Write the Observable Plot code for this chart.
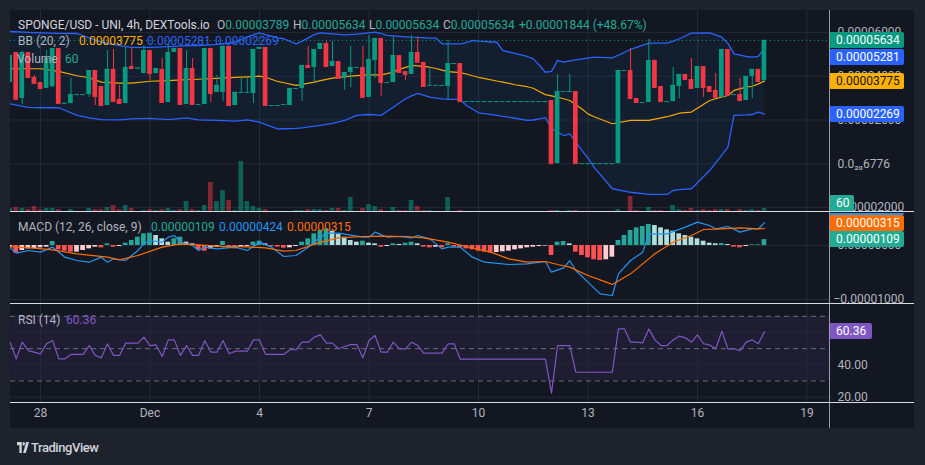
<!DOCTYPE html>
<html><head><meta charset="utf-8">
<script src="https://cdn.jsdelivr.net/npm/d3@7"></script>
<script src="https://cdn.jsdelivr.net/npm/@observablehq/plot@0.6"></script>
<style>
html,body{margin:0;padding:0;background:#1e222d;}
#root{position:relative;width:925px;height:465px;background:#1e222d;overflow:hidden;font-family:Roboto,"Noto Sans",sans-serif;}
#chartbg{position:absolute;left:10px;top:10px;width:904px;height:418px;background:#131722;}
.pane{position:absolute;left:10px;width:904px;overflow:hidden;}
.pane svg{position:absolute;left:0;top:0;}
.sep{position:absolute;}
.tag{position:absolute;left:819px;height:16px;line-height:16px;font-size:12px;padding-left:7px;box-sizing:border-box;border-radius:2px;white-space:nowrap;}
.lg{position:absolute;font-size:12px;line-height:16px;white-space:nowrap;}
</style></head>
<body><div id="root"><div id="chartbg"></div></div>
<script>
// ---------------- DATA ----------------
// prices in units of 1e-5 USD, one 4h candle each from 27 Nov 04:00
const open = [3.71,5.08,2.98,5.08,3.94,3.71,3.44,3.51,5.26,2.75,
2.75,3.16,3.16,3.16,4.26,3.53,2.66,4.31,2.94,2.75,
4.44,4.35,4.12,5.17,4.12,4.31,2.80,5.08,5.26,2.71,
4.35,2.71,2.71,5.26,3.26,3.26,5.36,2.66,3.26,3.26,
3.21,5.22,5.31,2.66,2.66,2.71,2.66,3.44,3.44,4.49,
4.40,5.22,5.49,4.44,4.67,3.90,4.17,4.40,4.40,3.03,
4.72,5.72,3.71,3.71,4.94,4.21,4.08,5.08,4.63,3.58,
3.58,3.58,3.53,4.58,4.58,2.84,2.84,2.84,2.84,2.84,
2.84,2.84,2.84,2.84,2.84,2.84,2.84,2.84,2.84,2.89,
0.0068,3.30,3.30,3.30,0.0068,0.0068,0.0068,0.0068,0.0068,0.0068,
0.0068,4.26,4.26,2.98,2.80,2.80,4.72,3.53,2.84,2.84,
3.53,4.08,3.85,3.44,4.44,3.53,3.35,3.03,5.22,3.16,
3.16,2.89,3.99,4.31,3.789];
const high = [4.94,5.08,5.13,5.08,4.03,3.71,5.17,5.26,5.26,2.76,
3.90,3.16,3.16,4.26,4.26,3.53,5.17,5.22,3.58,5.31,
5.31,4.40,5.40,5.17,4.35,4.81,5.49,5.26,5.26,5.17,
4.81,2.71,5.26,5.26,4.03,5.36,5.36,3.26,3.90,3.90,
5.22,5.31,5.31,2.66,2.66,2.71,3.44,3.44,4.49,5.36,
5.22,5.49,5.59,5.59,4.67,4.17,5.36,4.40,5.36,5.86,
5.72,5.72,3.71,5.77,4.94,4.21,5.86,5.77,4.63,4.40,
3.58,3.58,5.63,4.58,4.58,2.84,2.84,2.84,2.84,2.84,
2.84,2.84,2.84,2.84,2.84,2.84,2.84,2.84,2.84,2.89,
4.08,3.30,4.08,3.30,0.0068,0.0068,0.0068,0.0068,0.0068,0.0068,
4.26,4.26,5.26,2.98,2.80,5.68,4.72,3.53,2.84,4.40,
4.08,4.08,4.81,4.44,4.44,3.53,4.12,5.22,5.22,3.16,
3.90,3.99,4.31,4.31,5.634];
const low = [3.71,2.94,2.71,3.94,3.67,3.44,3.44,3.51,2.75,2.75,
2.75,3.16,3.16,3.03,2.66,2.66,2.66,2.84,2.75,2.75,
4.35,4.35,4.12,3.80,4.12,2.80,2.80,5.08,2.71,2.71,
2.71,2.71,2.71,2.80,3.26,2.84,2.66,2.66,3.26,3.26,
2.75,5.22,2.66,2.66,2.66,2.71,2.66,3.44,2.84,4.40,
3.67,5.22,4.44,4.44,3.90,3.35,3.48,4.40,3.03,3.03,
3.90,3.07,3.71,3.71,4.17,3.80,4.08,4.63,3.53,3.58,
3.58,3.58,2.94,4.58,2.84,2.84,2.84,2.84,2.84,2.84,
2.84,2.84,2.84,2.84,2.84,2.84,2.84,2.84,2.84,0.0068,
0.0068,3.30,3.30,0.0068,0.0068,0.0068,0.0068,0.0068,0.0068,0.0068,
0.0068,4.26,2.98,2.80,2.80,2.80,3.48,2.84,2.84,2.84,
2.98,3.85,3.44,3.44,3.03,3.30,3.03,3.03,3.12,3.16,
2.89,2.89,2.98,3.76,3.789];
const close = [4.94,2.94,5.08,3.94,3.67,3.44,4.81,5.26,2.75,2.76,
3.16,3.16,3.16,4.26,3.07,2.66,4.31,2.84,2.75,4.40,
4.35,4.36,5.17,4.12,4.35,2.80,5.08,5.26,2.71,4.35,
2.71,2.71,5.26,3.21,3.58,5.36,2.66,3.26,3.26,3.26,
5.22,5.31,2.66,2.66,2.66,2.71,3.44,3.44,4.49,4.40,
5.22,5.49,4.44,4.67,3.90,4.17,4.40,4.40,3.03,4.76,
5.72,3.71,3.71,4.94,4.17,4.08,5.08,4.63,3.53,3.58,
3.58,3.58,4.58,4.58,2.84,2.84,2.84,2.84,2.84,2.84,
2.84,2.84,2.84,2.84,2.84,2.84,2.84,2.84,2.84,0.0068,
3.30,3.30,3.30,0.0068,0.0068,0.0068,0.0068,0.0068,0.0068,0.0068,
4.26,4.26,2.98,2.80,2.80,4.72,3.48,2.84,2.84,3.58,
4.08,3.85,3.44,4.44,3.48,3.30,3.03,5.22,3.12,3.16,
2.89,3.99,4.31,3.76,5.634];
const volume = [60,80,60,40,100,40,60,60,40,0,
40,0,0,60,40,40,80,120,40,120,
60,0,20,40,20,40,60,20,40,200,
40,20,120,580,200,420,220,20,1000,200,
100,60,40,0,0,0,0,20,20,40,
40,40,20,60,60,20,280,0,60,140,
100,40,0,80,20,20,220,100,20,20,
0,0,280,0,20,0,0,0,0,0,
0,0,0,0,0,0,0,0,0,20,
20,0,20,20,0,0,0,0,0,0,
40,0,300,20,0,80,20,20,0,120,
40,20,60,20,40,20,40,40,40,0,
40,20,40,20,60];
// MACD histogram, units of 1e-6
const macdHist = [-0.43,-1.42,-0.93,-0.62,-0.62,-0.43,-0.31,0.74,-0.80,-1.05,
-1.23,-1.23,-0.93,-0.62,-0.31,-0.43,0.31,-0.31,-0.19,0.43,
0.93,1.54,2.16,2.28,1.85,1.23,0.62,1.23,1.54,0.62,
0.31,-0.80,-1.05,-0.62,-0.31,0.74,-0.43,-0.62,-0.31,-0.19,
0.62,0.80,0.31,-0.19,-0.31,-0.49,-0.43,-0.19,0.62,1.23,
2.16,2.78,3.09,2.65,2.04,1.54,0.93,0.62,0.80,0.43,
0.31,-0.31,-0.19,0.31,0.19,0.43,0.62,0.31,-0.31,-0.43,
-0.31,-0.43,0.31,-0.31,-0.43,-0.62,-0.80,-1.05,-1.23,-1.42,
-1.30,-1.17,-1.05,-0.80,-0.62,-0.43,-0.31,-0.19,-0.12,-1.85,
0.62,0.74,0.31,-1.23,-1.85,-2.28,-2.65,-2.78,-2.65,-2.16,
0.93,1.85,2.78,3.27,3.52,3.89,3.70,3.27,2.90,2.65,
2.16,1.85,1.54,1.23,0.80,0.43,0.31,0.37,0.19,-0.31,
-0.43,-0.19,0.12,0.12,1.09];
const macdIdx = [0,1,3,5,7,9,11,13,15,16,17,19,21,22,23,25,26,27,28,30,31,32,34,37,39,41,43,45,47,49,51,52,54,58,59,60,62,64,66,67,69,71,72,74,76,78,82,85,88,89,91,92,93,95,97,99,100,102,104,105,108,111,113,115,116,118,120,122,123,124];
const macdVal = [-0.43,-1.42,-0.93,-1.23,-0.31,-2.16,-2.78,-3.09,-2.16,-3.09,-2.47,-2.78,-0.93,0.31,0.93,0.62,1.54,1.85,0.62,0,-0.93,-0.31,-0.62,-0.31,-0.93,0.62,-0.31,-2.04,-1.85,-0.31,1.54,2.28,2.28,1.54,1.54,2.47,1.54,1.67,1.42,1.85,1.23,-0.62,-0.31,-0.31,-2.16,-3.09,-3.52,-3.40,-2.96,-4.94,-4.14,-2.78,-4.63,-6.79,-8.95,-9.26,-5.25,-2.78,-1.23,2.16,2.16,3.40,4.32,3.70,3.09,3.52,2.47,3.09,3.09,4.24];
const signalIdx = [0,4,7,11,16,18,21,25,28,31,35,38,42,45,47,51,54,58,61,65,68,72,75,79,82,85,88,90,92,95,98,99,102,106,109,112,114,117,120,123,124];
const signalVal = [-0.19,-0.49,-0.80,-1.54,-2.16,-2.65,-1.85,-0.31,0.31,0.12,-0.19,-0.19,-0.43,-1.05,-0.93,0.62,1.42,1.67,1.73,1.67,1.42,0.62,-0.19,-1.23,-2.47,-3.09,-2.96,-3.52,-4.01,-5.56,-6.79,-7.22,-5.25,-1.54,0.62,1.85,2.96,3.09,3.27,3.09,3.15];
// Bollinger bands (units 1e-5)
const bbIdx = [0,3,5,8,11,13,15,18,20,23,26,29,31,34,37,39,41,42,44,45,47,48,50,51,53,55,57,59,60,61,62,63,64,65,66,67,69,70,71,72,74,75,76,77,80,81,83,85,86,87,88,89,90,91,92,94,95,96,99,102,105,108,109,110,112,115,117,118,119,121,122,123,124];
const bbUpper = [6.04,6.00,5.98,5.96,5.95,5.75,5.55,5.40,5.32,5.32,5.35,5.40,5.40,5.45,5.55,5.80,5.98,5.90,5.75,5.71,5.48,5.60,5.90,5.98,5.93,5.89,5.92,5.98,6.01,5.95,5.86,5.84,5.82,5.80,5.78,5.77,5.74,5.74,5.48,5.48,5.48,5.53,5.63,5.60,5.55,5.17,5.04,4.90,4.79,4.50,4.18,4.22,4.72,4.64,4.70,4.79,4.83,4.87,4.84,5.22,5.51,5.51,5.60,5.71,5.97,5.98,5.78,5.50,5.02,4.90,4.87,4.91,5.281];
const bbBasis = [4.34,4.34,4.34,4.22,4.02,3.93,3.73,3.68,3.68,3.77,3.80,3.84,3.86,3.90,3.95,3.97,4.00,3.95,3.76,3.70,3.58,3.63,3.73,3.80,3.91,3.98,4.03,4.06,4.06,4.06,4.12,4.20,4.31,4.40,4.49,4.47,4.41,4.35,4.28,4.21,4.16,4.10,4.02,3.95,3.78,3.73,3.61,3.52,3.45,3.30,3.16,3.10,3.04,2.97,2.89,2.50,2.28,2.15,1.83,1.98,1.98,2.15,2.22,2.31,2.36,2.89,3.05,3.12,3.35,3.50,3.54,3.65,3.775];
const bbLower = [2.74,2.58,2.56,2.56,2.21,2.10,2.02,2.01,2.05,2.07,2.02,2.10,2.01,1.98,1.95,2.01,1.90,1.79,1.59,1.60,1.62,1.64,1.72,1.75,1.85,1.98,2.21,2.25,2.23,2.21,2.40,2.58,2.78,2.97,3.10,3.22,3.04,3.00,2.96,2.94,2.94,2.66,2.50,2.33,2.21,2.17,2.08,1.98,2.00,2.05,2.11,1.60,1.45,1.29,1.37,0.61,0.25,-0.16,-1.14,-1.30,-1.40,-1.40,-1.22,-1.18,-1.14,-0.31,0.40,0.76,2.21,2.23,2.25,2.36,2.269];
// RSI (14)
const rsiIdx = [0,1,2,3,5,6,7,8,9,10,12,13,14,15,16,17,18,19,21,22,23,24,25,26,27,28,29,30,31,32,33,34,35,36,37,39,40,41,42,45,46,47,48,49,50,51,52,53,54,55,56,57,58,59,60,61,62,63,64,65,66,67,68,71,72,73,74,88,89,90,92,93,99,100,101,102,103,104,105,106,107,108,109,110,111,112,113,114,115,116,117,118,119,120,121,122,123,124];
const rsiVal = [54.0,43.7,54.0,48.8,46.8,53.0,55.0,43.7,43.7,46.4,46.4,51.9,45.8,44.3,53.0,45.8,45.8,53.4,53.4,57.1,51.9,52.3,45.1,55.4,55.4,45.8,51.9,45.8,45.8,55.0,47.8,47.8,55.0,46.8,48.4,48.4,55.4,55.4,46.4,46.4,49.3,49.3,54.0,54.0,57.1,58.5,53.4,53.4,49.9,51.3,52.5,52.5,44.3,55.0,58.1,47.8,47.8,54.0,49.9,49.9,54.0,51.9,47.2,47.2,53.0,53.0,43.5,43.5,22.5,51.9,51.9,35.4,35.4,62.2,62.2,54.0,54.0,53.6,62.2,55.4,51.9,51.9,55.4,57.7,56.7,54.0,58.5,53.0,52.3,49.9,60.8,49.9,49.9,48.8,54.0,55.4,53.0,60.36];
// axis ticks
const dateTickLabels = ["28","Dec","4","7","10","13","16","19"];
const dateTickMD = [[10,28],[11,1],[11,4],[11,7],[11,10],[11,13],[11,16],[11,19]];
const priceTicks = [6,4,2,0,-2];
const priceTickLabels = ["0.00006000","0.00004000","0.00002000","0.0\u2082\u20806776","\u22120.00002000"];
const macdTicks = [0,-10];
const macdTickLabels = ["0.00000000","\u22120.00001000"];
const rsiTicks = [60,40,20];
const rsiTickLabels = ["60.00","40.00","20.00"];

// ---------------- SETUP ----------------
const GREEN = "#089981", RED = "#f23645", GRID = "#242936", AXT = "#b2b5be";
const T0 = Date.UTC(2023,10,27,4,0), H4 = 4*3600e3, HALF = 1.55*3600e3;
const dateOf = i => new Date(T0 + i*H4);
const xDomain = [new Date(Date.UTC(2023,10,27,4,16)), new Date(Date.UTC(2023,11,19,15,27))];
const tickDates = dateTickMD.map(([m,d]) => new Date(Date.UTC(2023,m,d)));
const x1 = d => new Date(+d.date - HALF), x2 = d => new Date(+d.date + HALF);

const candles = open.map((o,i) => {
  const up = close[i] >= o;
  const h = macdHist[i], p = i ? macdHist[i-1] : h;
  return {date: dateOf(i), open: o, high: high[i], low: low[i], close: close[i], vol: volume[i], hist: h,
    color: up ? GREEN : RED,
    vcolor: up ? "rgba(8,153,129,0.55)" : "rgba(242,54,69,0.5)",
    hcolor: h >= 0 ? (h >= p ? "#26a69a" : "#b2dfdb") : (h >= p ? "#ffcdd2" : "#ff5252")};
});
const bb = bbIdx.map((k,j) => ({date: dateOf(k), upper: bbUpper[j], basis: bbBasis[j], lower: bbLower[j]}));
const macdPts = macdIdx.map((k,j) => ({date: dateOf(k), v: macdVal[j]}));
const sigPts = signalIdx.map((k,j) => ({date: dateOf(k), v: signalVal[j]}));
const rsiPts = rsiIdx.map((k,j) => ({date: dateOf(k), v: rsiVal[j]}));

const base = (h, extra) => Object.assign({
  width: 904, height: h, marginLeft: 0, marginRight: 84, marginTop: 0, marginBottom: 0,
  x: {type: "utc", domain: xDomain, axis: null},
  color: {type: "identity"},
  style: {background: "transparent", overflow: "visible", fontFamily: "Roboto, sans-serif", fontSize: "12px", color: AXT}
}, extra);
// negative labels start a little further left, as on the reference axis
const axisText = (ticks, labels) => Plot.text(ticks, {y: d => d, text: (d,i) => labels[i], frameAnchor: "right", dx: (d) => d < 0 ? 3 : 7, textAnchor: "start", fill: AXT});
const axisTextPos = (ticks, labels) => Plot.text(ticks.filter(d => d >= 0), {y: d => d, text: d => labels[ticks.indexOf(d)], frameAnchor: "right", dx: 7, textAnchor: "start", fill: AXT});
const axisTextNeg = (ticks, labels) => Plot.text(ticks.filter(d => d < 0), {y: d => d, text: d => labels[ticks.indexOf(d)], frameAnchor: "right", dx: 3, textAnchor: "start", fill: AXT});

const root = document.getElementById("root");
function pane(top, h) { const d = document.createElement("div"); d.className = "pane"; d.style.top = top + "px"; d.style.height = h + "px"; root.appendChild(d); return d; }

// ---------------- MAIN PANE ----------------
const mainPane = pane(10, 202);
const mainPlot = Plot.plot(base(202, {
  y: {domain: [-2.224, 7.0], axis: null},
  marks: [
    Plot.ruleX(tickDates, {x: d => d, stroke: GRID}),
    Plot.ruleY(priceTicks, {y: d => d, stroke: GRID}),
    Plot.areaY(bb, {x: "date", y1: "lower", y2: "upper", fill: "#2196f3", fillOpacity: 0.06}),
    Plot.line(bb, {x: "date", y: "upper", stroke: "#2962ff", strokeWidth: 1.3}),
    Plot.line(bb, {x: "date", y: "lower", stroke: "#2962ff", strokeWidth: 1.3}),
    Plot.line(bb, {x: "date", y: "basis", stroke: "#f5a800", strokeWidth: 1.2}),
    Plot.ruleY([close[close.length-1]], {y: d => d, stroke: GREEN, strokeDasharray: "1 3"}),
    Plot.ruleX(candles, {x: "date", y1: "low", y2: "high", stroke: "color"}),
    Plot.rect(candles, {x1, x2, y1: "open", y2: "close", fill: "color"}),
    Plot.ruleY(candles, {y: "close", x1, x2, stroke: "color"}),
    axisTextPos(priceTicks, priceTickLabels),
    axisTextNeg(priceTicks, priceTickLabels)
  ]
}));
mainPane.appendChild(mainPlot);
const volPlot = Plot.plot(base(202, {
  y: {domain: [0, 1000], range: [201, 151], axis: null},
  marks: [Plot.rect(candles, {x1, x2, y1: 0, y2: "vol", fill: "vcolor"})]
}));
mainPane.appendChild(volPlot);

// ---------------- MACD PANE ----------------
const macdPane = pane(213, 90);
const macdPlot = Plot.plot(base(90, {
  y: {domain: [-10.74, 5.926], axis: null},
  marks: [
    Plot.ruleX(tickDates, {x: d => d, stroke: GRID}),
    Plot.ruleY(macdTicks, {y: d => d, stroke: GRID}),
    Plot.rect(candles, {x1, x2, y1: 0, y2: "hist", fill: "hcolor"}),
    Plot.line(macdPts, {x: "date", y: "v", stroke: "#2196f3", strokeWidth: 1.2}),
    Plot.line(sigPts, {x: "date", y: "v", stroke: "#ff6d00", strokeWidth: 1.2}),
    axisTextPos(macdTicks, macdTickLabels),
    axisTextNeg(macdTicks, macdTickLabels)
  ]
}));
macdPane.appendChild(macdPlot);

// ---------------- RSI PANE + TIME AXIS ----------------
const rsiPane = pane(304, 124);
const rsiPlot = Plot.plot(base(124, {
  marginBottom: 26,
  y: {domain: [16.69, 77.29], axis: null},
  marks: [
    Plot.rect([0], {x1: () => xDomain[0], x2: () => xDomain[1], y1: () => 30, y2: () => 70, fill: "#7e57c2", fillOpacity: 0.1}),
    Plot.ruleX(tickDates, {x: d => d, stroke: GRID}),
    Plot.ruleY(rsiTicks, {y: d => d, stroke: GRID}),
    Plot.ruleY([70, 50, 30], {y: d => d, stroke: "#787b86", strokeDasharray: "5 4", strokeOpacity: 0.85}),
    Plot.line(rsiPts, {x: "date", y: "v", stroke: "#7e57c2", strokeWidth: 1.2}),
    axisTextPos(rsiTicks, rsiTickLabels),
    Plot.text(tickDates, {x: d => d, text: (d,i) => dateTickLabels[i], frameAnchor: "bottom", dy: 14, fill: AXT})
  ]
}));
rsiPane.appendChild(rsiPlot);

// ---------------- SEPARATORS ----------------
function sep(l, t, w, h, c) { const d = document.createElement("div"); d.className = "sep"; Object.assign(d.style, {left: l+"px", top: t+"px", width: w+"px", height: h+"px", background: c}); root.appendChild(d); }
sep(829, 10, 1, 418, "#9a9da6");
sep(10, 211, 904, 1, "#d9dbe0");
sep(10, 303, 904, 1, "#d9dbe0");
sep(10, 402, 904, 1, "#d9dbe0");

// ---------------- PRICE TAGS ----------------
function tag(parent, y, text, bg, fg, w) {
  const d = document.createElement("div"); d.className = "tag";
  Object.assign(d.style, {top: (y - 8) + "px", width: w + "px", background: bg, color: fg});
  d.textContent = text; parent.appendChild(d);
}
const last = a => a[a.length - 1];
const fmt = v => (v * 1e-5).toFixed(8);
{
  const sy = mainPlot.scale("y");
  const items = [
    {v: last(close), bg: GREEN, fg: "#fff"},
    {v: last(bbUpper), bg: "#2962ff", fg: "#fff"},
    {v: last(bbBasis), bg: "#ffb000", fg: "#131722"},
    {v: last(bbLower), bg: "#2962ff", fg: "#fff"}
  ].map(t => ({...t, y: sy.apply(t.v)})).sort((a,b) => a.y - b.y);
  let prev = -1e9;
  for (const t of items) { t.y = Math.max(t.y, prev + 17); prev = t.y; tag(mainPane, t.y, fmt(t.v), t.bg, t.fg, 75); }
  const vy = Math.min(volPlot.scale("y").apply(last(volume)), 202 - 9);
  tag(mainPane, vy, String(last(volume)), "#22ab94", "#fff", 25);
}
{
  const sy = macdPlot.scale("y");
  const items = [
    {v: last(macdHist), bg: "#22ab94"},
    {v: last(signalVal), bg: "#ff6d00"},
    {v: last(macdVal), bg: "#2196f3"}
  ].map(t => ({...t, y: sy.apply(t.v)})).sort((a,b) => b.y - a.y);
  let prev = 1e9;
  for (const t of items) { t.y = Math.min(t.y, prev - 16); prev = t.y; }
  for (const t of items.slice().reverse()) tag(macdPane, t.y, (t.v * 1e-6).toFixed(8), t.bg, "#fff", 75);
}
tag(rsiPane, rsiPlot.scale("y").apply(last(rsiVal)), last(rsiVal).toFixed(2), "#7e57c2", "#fff", 43);

// ---------------- LEGENDS ----------------
const GR = "#b2b5be", GV = "#22ab94";
function lg(x, y, parts) {
  const d = document.createElement("div"); d.className = "lg";
  d.style.left = x + "px"; d.style.top = (y - 8) + "px";
  for (const [t, c] of parts) { const s = document.createElement("span"); s.textContent = t; s.style.color = c; d.appendChild(s); }
  root.appendChild(d);
}
lg(18, 25, [["SPONGE/USD - UNI, 4h, DEXTools.io", "#d1d4dc"]]);
lg(217, 25, [["O", GR], ["0.00003789", GV]]);
lg(293, 25, [["H", GR], ["0.00005634", GV]]);
lg(369, 25, [["L", GR], ["0.00005634", GV]]);
lg(443, 25, [["C", GR], ["0.00005634", GV]]);
lg(519, 25, [["+0.00001844 (+48.67%)", GV]]);
lg(18, 41, [["BB (20, 2)", GR]]);
lg(79, 41, [["0.00003775", "#ffb000"]]);
lg(147, 41, [["0.00005281", "#2962ff"]]);
lg(215, 41, [["0.00002269", "#2962ff"]]);
lg(17, 59, [["Volume", GR]]);
lg(65, 59, [["60", GV]]);
lg(18, 227, [["MACD (12, 26, close, 9)", GR]]);
lg(151, 227, [["0.00000109", GV]]);
lg(219, 227, [["0.00000424", "#2196f3"]]);
lg(287, 227, [["0.00000315", "#ff6d00"]]);
lg(18, 320, [["RSI (14)", GR]]);
lg(66, 320, [["60.36", "#7e57c2"]]);

// ---------------- LOGO ----------------
const logo = document.createElement("div");
logo.style.cssText = "position:absolute;left:17px;top:440px;height:14px;display:flex;align-items:center;color:#d1d4dc;";
logo.innerHTML = '<svg width="12" height="11" viewBox="0 0 19 12" preserveAspectRatio="none" style="margin-right:2px"><path d="M0 0h7.5v12H3.8V3.6H0z" fill="#d1d4dc"/><circle cx="10.6" cy="2" r="2" fill="#d1d4dc"/><path d="M14.5 0H19L14 12H9.6z" fill="#d1d4dc"/></svg><span style="font-size:13px;font-weight:500;letter-spacing:-0.45px;">TradingView</span>';
root.appendChild(logo);
</script></body></html>
